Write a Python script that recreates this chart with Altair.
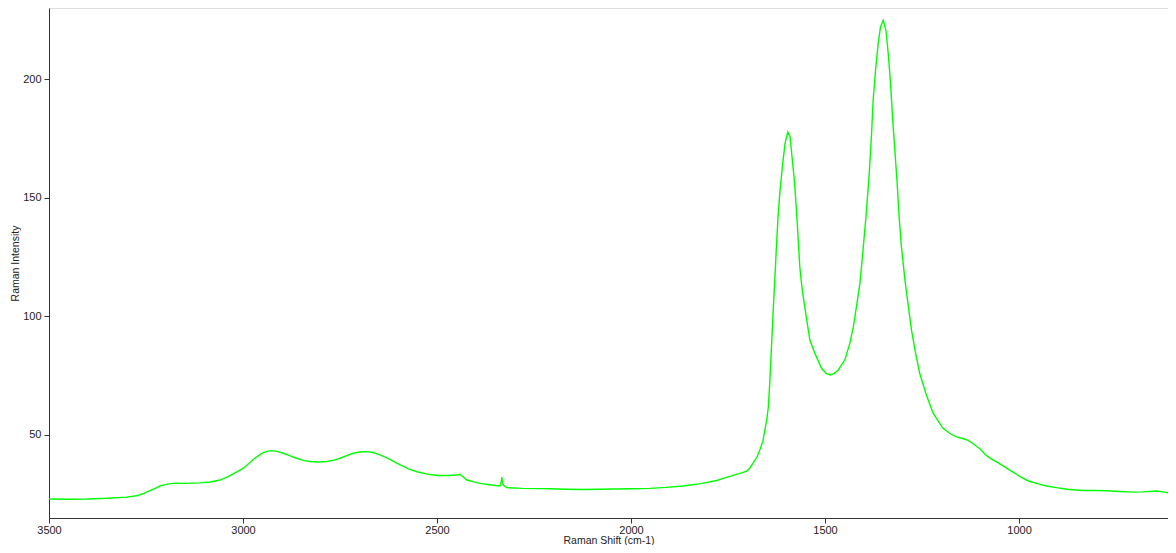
import altair as alt
import pandas as pd

# Raman shift (cm-1) and intensity values
shift = [3500, 3450, 3400, 3350, 3300, 3274, 3255, 3240, 3225, 3214, 3195, 3175, 3150, 3111, 3085,
         3059, 3040, 3025, 3010, 2999, 2985, 2973, 2960, 2948, 2935, 2926, 2910, 2896, 2880, 2862,
         2845, 2827, 2805, 2784, 2765, 2750, 2733, 2716, 2700, 2681, 2665, 2647, 2625, 2604, 2596,
         2575, 2552, 2525, 2500, 2470, 2450, 2441, 2430, 2423, 2405, 2389, 2365, 2338, 2335, 2333,
         2330, 2320, 2280, 2240, 2209, 2170, 2124, 2080, 2040, 1995, 1951, 1910, 1866, 1820, 1779,
         1760, 1737, 1715, 1702, 1694, 1685, 1676, 1668, 1660, 1655, 1650, 1646, 1642, 1638, 1633,
         1629, 1625, 1621, 1616, 1609, 1603, 1596, 1590, 1585, 1579, 1573, 1568, 1565, 1560, 1556,
         1547, 1539, 1526, 1509, 1497, 1487, 1476, 1466, 1449, 1436, 1427, 1419, 1410, 1402, 1393,
         1386, 1380, 1376, 1369, 1363, 1357, 1350, 1343, 1337, 1331, 1326, 1320, 1314, 1309, 1303,
         1294, 1285, 1277, 1268, 1256, 1238, 1221, 1196, 1175, 1161, 1145, 1135, 1118, 1101, 1085,
         1071, 1060, 1041, 1025, 1011, 995, 976, 950, 929, 900, 877, 835, 800, 774, 740,
         706, 680, 646, 625, 607, 600]
intensity = [23.0, 22.9, 23.0, 23.3, 23.8, 24.4, 25.4, 26.5, 27.6, 28.5, 29.3, 29.7, 29.6, 29.8, 30.2,
             31.0, 32.3, 33.6, 35.0, 36.0, 38.0, 39.8, 41.3, 42.6, 43.2, 43.4, 43.0, 42.3, 41.3, 40.2,
             39.3, 38.8, 38.6, 38.8, 39.4, 40.2, 41.3, 42.3, 42.8, 43.0, 42.6, 41.6, 40.0, 38.1, 37.5,
             35.8, 34.5, 33.5, 32.9, 32.9, 33.1, 33.4, 32.0, 31.0, 30.2, 29.6, 29.0, 28.5, 29.5, 32.2,
             29.0, 27.8, 27.5, 27.4, 27.3, 27.1, 27.0, 27.1, 27.2, 27.3, 27.5, 27.9, 28.5, 29.5, 30.8,
             31.8, 33.0, 34.0, 34.8, 36.0, 38.2, 40.5, 43.7, 47.5, 52.1, 56.5, 61.9, 73.0, 87.2, 104.0,
             116.7, 130.0, 142.0, 153.0, 164.4, 172.9, 177.7, 175.7, 167.2, 157.4, 143.4, 129.3, 120.9, 113.0, 108.2,
             98.4, 90.0, 84.4, 78.1, 76.0, 75.3, 76.0, 77.4, 81.6, 88.6, 95.6, 104.0, 113.9, 128.0, 144.8,
             160.2, 177.1, 191.0, 205.1, 215.0, 222.0, 224.8, 220.6, 210.7, 198.1, 184.0, 170.0, 156.0, 142.0, 129.3,
             115.3, 104.0, 94.2, 85.8, 76.0, 66.5, 59.1, 52.8, 50.3, 49.2, 48.5, 48.0, 46.3, 44.2, 41.5,
             39.8, 38.9, 37.0, 35.3, 33.9, 32.2, 30.6, 29.4, 28.5, 27.7, 27.1, 26.6, 26.6, 26.5, 26.2,
             25.9, 26.0, 26.4, 25.9, 25.4, 25.4]

x_ticks = [3500, 3000, 2500, 2000, 1500, 1000]
y_ticks = [50, 100, 150, 200]

df = pd.DataFrame({"shift": shift, "intensity": intensity})

FONT = "Liberation Sans"

chart = alt.Chart(df).mark_line(color="#00ff00", strokeWidth=1.4, clip=True).encode(
    x=alt.X("shift:Q", sort=None,
            scale=alt.Scale(domain=[3500, 616], nice=False, zero=False),
            axis=alt.Axis(title="Raman Shift (cm-1)", values=x_ticks, format="d",
                          grid=False, tickSize=5, labelPadding=1,
                          labelFont=FONT, labelFontSize=11, labelColor="#222",
                          titleFont=FONT, titleFontSize=10.5, titleFontWeight="normal",
                          titleColor="#222", titleY=17, titleBaseline="top",
                          domainColor="#333", tickColor="#333", labelFlush=False)),
    y=alt.Y("intensity:Q",
            scale=alt.Scale(domain=[15, 230], nice=False, zero=False),
            axis=alt.Axis(title="Raman Intensity", values=y_ticks, format="d",
                          grid=False, tickSize=5, labelPadding=3,
                          labelFont=FONT, labelFontSize=11, labelColor="#222",
                          titleFont=FONT, titleFontSize=10.5, titleFontWeight="normal",
                          titleColor="#222", titleX=-29, titleY=255,
                          domainColor="#333", tickColor="#333")),
    order=alt.Order("idx:Q"),
).transform_window(idx="row_number()").properties(
    width=1119, height=510,
    autosize=alt.AutoSizeParams(type="none"),
    padding={"left": 41, "top": 0, "right": 0, "bottom": 27},
).configure_view(stroke="#333", strokeWidth=1).configure(background="white")

chart.save("out.html", embed_options={"renderer": "svg", "actions": False})
